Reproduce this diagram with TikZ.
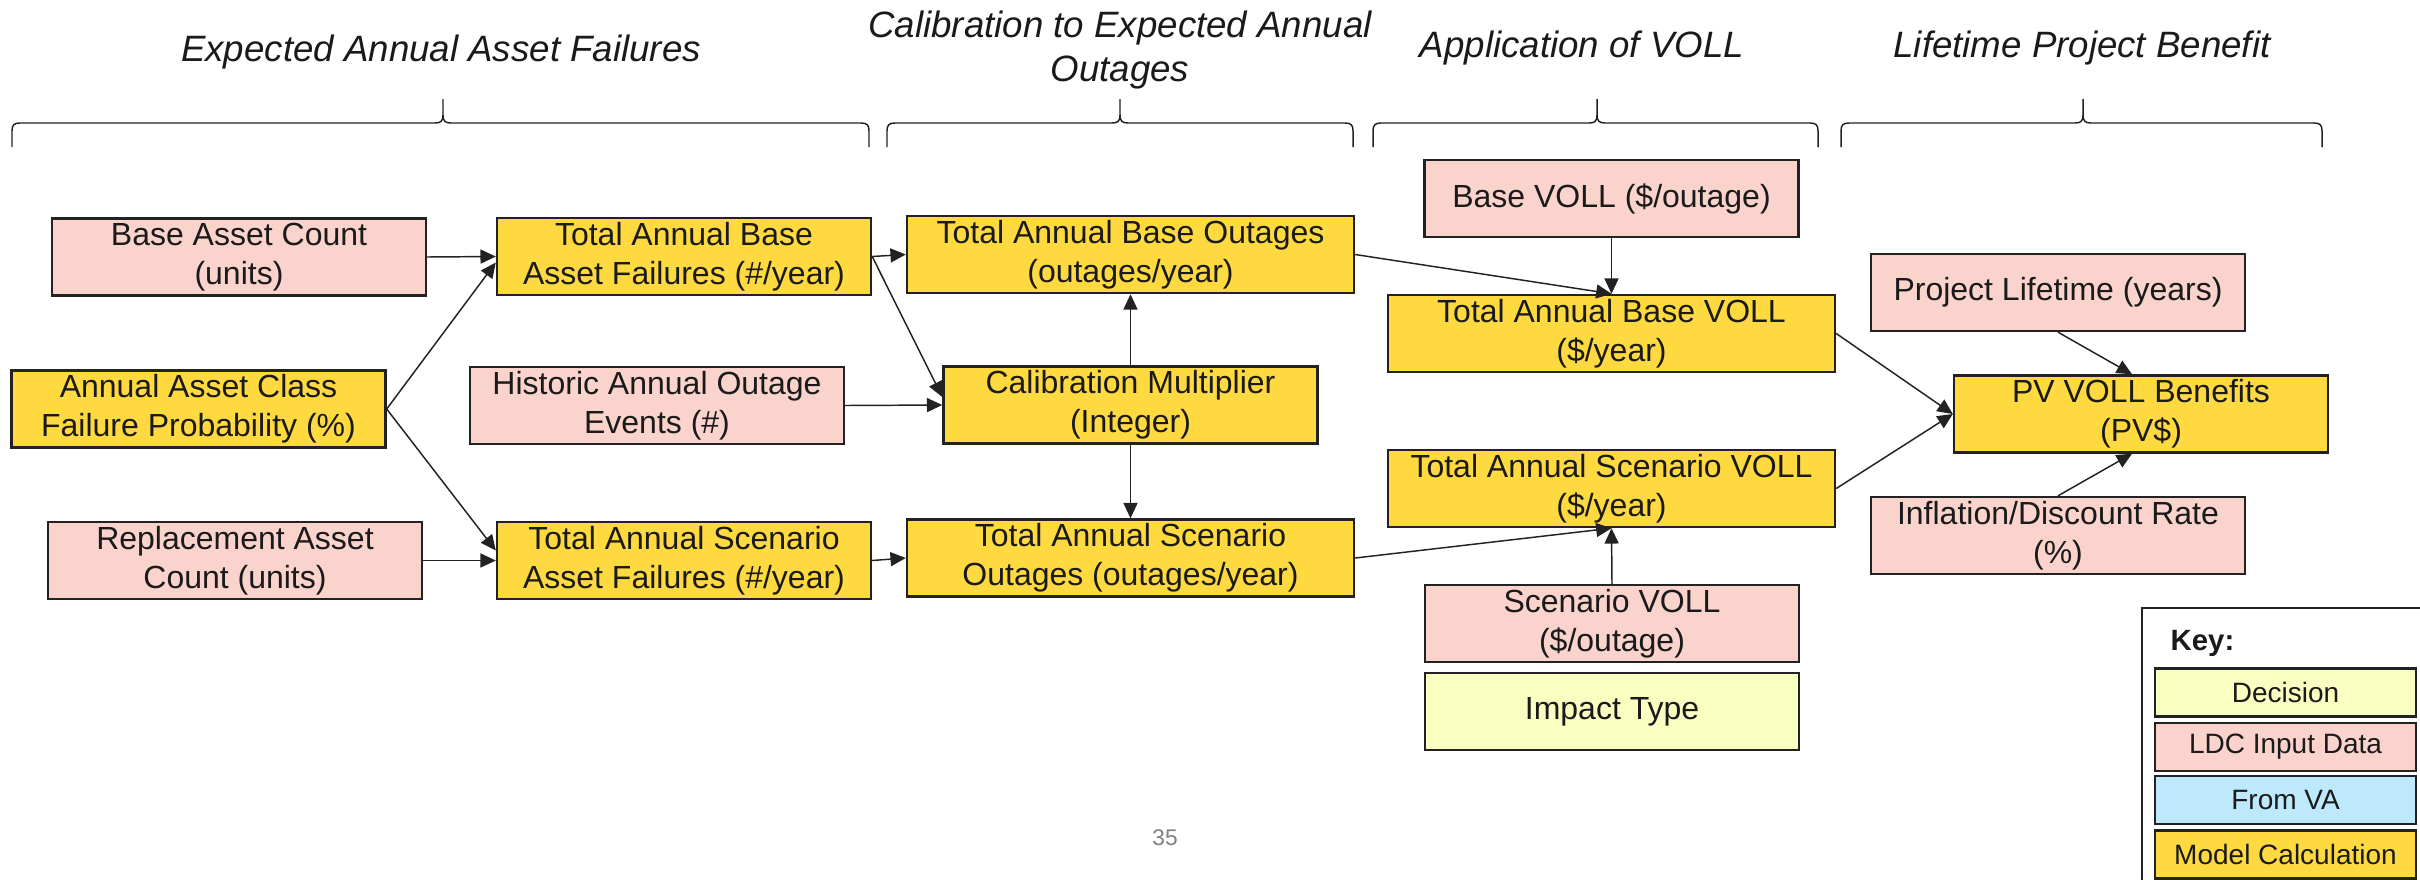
\documentclass[tikz,border=0pt]{standalone}
\usepackage{fontspec}
\setmainfont{Liberation Sans}
\usetikzlibrary{arrows.meta}
\definecolor{pinkfill}{HTML}{FAD4CC}
\definecolor{yellowfill}{HTML}{FFD940}
\definecolor{decfill}{HTML}{F9FFC0}
\definecolor{vafill}{HTML}{BEE9FC}
\definecolor{edge}{HTML}{222222}
\definecolor{txt}{HTML}{1A1A1A}
\newcommand\mybrace[3]{\draw[brace] (#1,147) -- (#1,131) .. controls (#1,125) and ({#1+2},123) .. ({#1+8},123) -- ({#2-8},123) .. controls ({#2-2},123) and (#2,121) .. (#2,115) -- (#2,99) -- (#2,115) .. controls (#2,121) and ({#2+2},123) .. ({#2+8},123) -- ({#3-8},123) .. controls ({#3-2},123) and (#3,125) .. (#3,131) -- (#3,147);}
\begin{document}
\begin{tikzpicture}[x=0.75pt,y=-0.75pt,
  box/.style={draw=edge, line width=1.8pt, inner xsep=0pt, inner ysep=0pt, align=center, minimum height=57.75pt, font=\fontsize{24}{29}\selectfont, text=txt},
  wide/.style={minimum width=335.25pt},
  narrow/.style={minimum width=280.5pt},
  inp/.style={box, narrow, fill=pinkfill},
  calcbox/.style={box, fill=yellowfill},
  dec/.style={box, narrow, fill=decfill},
  conn/.style={draw=edge, line width=1.1pt, -{Triangle[length=11.5pt,width=10.5pt]}},
  hdr/.style={font=\fontsize{27.5}{33}\selectfont\itshape, text=txt, align=center},
  brace/.style={draw=edge, line width=1.1pt},
  keybox/.style={draw=edge, line width=1.8pt, inner sep=0pt, minimum width=195.75pt, minimum height=36pt, font=\fontsize{21}{24}\selectfont, text=txt}
]
\clip (0,0) rectangle (2420,879);
\fill[white] (0,0) rectangle (2420,879);

% headers
\node[hdr] (h1) at (441,52) {Expected Annual Asset Failures};
\node[hdr] (h2) at (1120,50) {Calibration to Expected Annual\\Outages};
\node[hdr] (h3) at (1582,48) {Application of VOLL};
\node[hdr] (h4) at (2082,48) {Lifetime Project Benefit};

% braces
\mybrace{12}{443}{869}
\mybrace{887}{1120}{1353}
\mybrace{1373}{1597}{1818}
\mybrace{1841}{2083}{2322}

% column 1
\node[inp] (bac) at (239,257) {Base Asset Count\\(units)};
\node[calcbox, narrow] (aacfp) at (198.5,409) {Annual Asset Class\\Failure Probability (\%)};
\node[inp] (rac) at (235,560.5) {Replacement Asset\\Count (units)};

% column 2
\node[calcbox, narrow] (tabaf) at (684,256.5) {Total Annual Base\\Asset Failures (\#/year)};
\node[inp] (hist) at (657,405.5) {Historic Annual Outage\\Events (\#)};
\node[calcbox, narrow] (tasaf) at (684,560.5) {Total Annual Scenario\\Asset Failures (\#/year)};

% column 3
\node[calcbox, wide] (tabo) at (1130.5,254.5) {Total Annual Base Outages\\(outages/year)};
\node[calcbox, narrow] (cm) at (1130.5,405) {Calibration Multiplier\\(Integer)};
\node[calcbox, wide] (taso) at (1130.5,558) {Total Annual Scenario\\Outages (outages/year)};

% column 4
\node[inp] (bvoll) at (1611.5,198.5) {Base VOLL (\$/outage)};
\node[calcbox, wide] (tabvoll) at (1611.5,333.5) {Total Annual Base VOLL\\(\$/year)};
\node[calcbox, wide] (tasvoll) at (1611.5,488.5) {Total Annual Scenario VOLL\\(\$/year)};
\node[inp] (svoll) at (1612,623.5) {Scenario VOLL\\(\$/outage)};
\node[dec] (impact) at (1612,711.5) {Impact Type};

% column 5
\node[inp] (plife) at (2058,292.5) {Project Lifetime (years)};
\node[calcbox, narrow] (pv) at (2141,414) {PV VOLL Benefits\\(PV\$)};
\node[inp] (infl) at (2058,535.5) {Inflation/Discount Rate\\(\%)};

% connectors
\draw[conn] (bac.east) -- (tabaf.west);
\draw[conn] (aacfp.east) -- ([yshift=-4.5pt]tabaf.west);
\draw[conn] (aacfp.east) -- ([yshift=7.5pt]tasaf.west);
\draw[conn] (rac.east) -- (tasaf.west);
\draw[conn] (tabaf.east) -- (tabo.west);
\draw[conn] (tabaf.east) -- ([yshift=6pt]cm.west);
\draw[conn] (hist.east) -- (cm.west);
\draw[conn] (tasaf.east) -- (taso.west);
\draw[conn] (cm.north) -- (tabo.south);
\draw[conn] (cm.south) -- (taso.north);
\draw[conn] (tabo.east) -- (tabvoll.north);
\draw[conn] (bvoll.south) -- (tabvoll.north);
\draw[conn] (taso.east) -- (tasvoll.south);
\draw[conn] (svoll.north) -- (tasvoll.south);
\draw[conn] (tabvoll.east) -- (pv.west);
\draw[conn] (tasvoll.east) -- (pv.west);
\draw[conn] (plife.south) -- ([xshift=-6.75pt]pv.north);
\draw[conn] (infl.north) -- ([xshift=-6.75pt]pv.south);

% page number
\node[font=\fontsize{17}{20}\selectfont, text=gray] (pg) at (1165,838) {35};

% key
\draw[draw=edge, line width=1.8pt] (2142,608) rectangle (2445,905);
\node[anchor=west, font=\fontsize{22}{26}\selectfont\bfseries, text=txt] (key) at (2166,643) {Key:};
\node[keybox, fill=decfill] (kdec) at (2285.5,692.5) {Decision};
\node[keybox, fill=pinkfill] (kldc) at (2285.5,747) {LDC Input Data};
\node[keybox, fill=vafill] (kva) at (2285.5,800) {From VA};
\node[keybox, fill=yellowfill] (kmc) at (2285.5,854.5) {Model Calculation};
\end{tikzpicture}
\end{document}
